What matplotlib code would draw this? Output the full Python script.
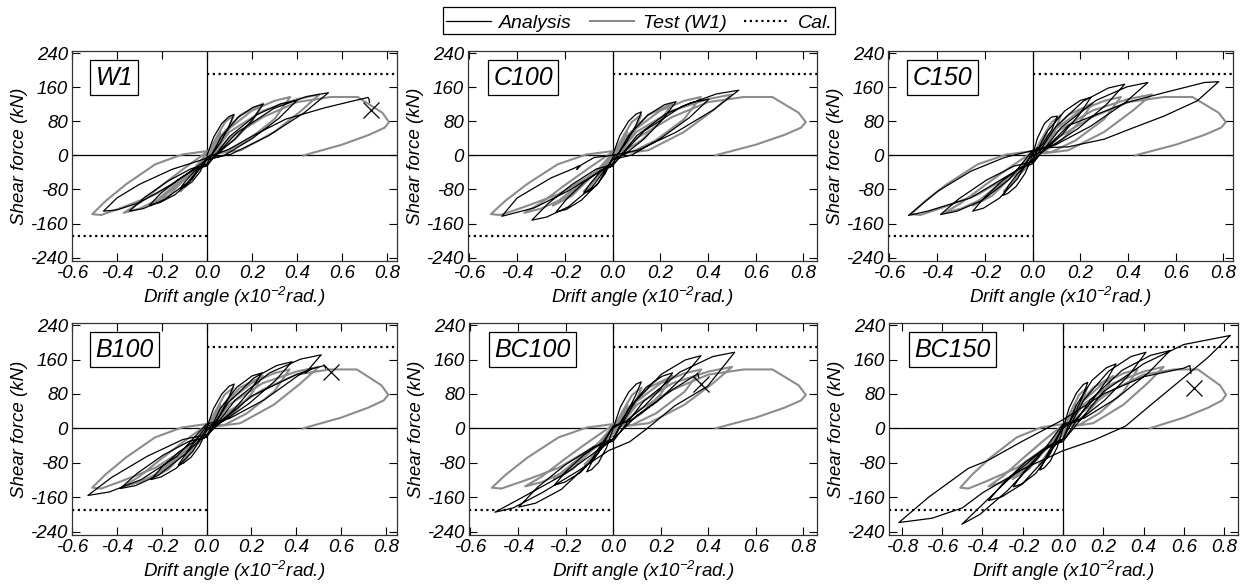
import matplotlib
matplotlib.use("Agg")
import matplotlib.pyplot as plt
import numpy as np
from matplotlib.patches import Rectangle
from matplotlib.ticker import FormatStrFormatter, MultipleLocator

plt.rcParams['font.family'] = ['Liberation Sans', 'DejaVu Sans']
plt.rcParams['font.style'] = 'italic'
plt.rcParams['font.size'] = 13.5
plt.rcParams['axes.unicode_minus'] = False
plt.rcParams['mathtext.fontset'] = 'custom'
plt.rcParams['mathtext.rm'] = 'Liberation Sans:italic'
plt.rcParams['mathtext.it'] = 'Liberation Sans:italic'

# calculated strength (kN)
cal_force = 190

# test result of specimen W1 (drift x1e-2 rad, shear kN), same in every panel
test_w1 = [(0, 0), (0.03, 30), (0.06, 55), (0.04, 30), (0.0, 5), (-0.04, -25), (-0.06, -45), (-0.03, -30), (0, -10),
           (0.04, 40), (0.08, 78), (0.12, 95), (0.09, 55), (0.04, 18), (0, 2), (-0.05, -40), (-0.09, -70), (-0.12, -85),
           (-0.08, -60), (-0.03, -30), (0, -15),
           (0.06, 45), (0.15, 95), (0.25, 122), (0.2, 80), (0.12, 35), (0.05, 10), (0, 5), (-0.08, -45), (-0.17, -95),
           (-0.25, -118), (-0.2, -95), (-0.1, -50), (0, -15),
           (0.08, 55), (0.2, 105), (0.3, 128), (0.37, 137), (0.3, 85), (0.18, 35), (0.08, 8), (0, 8), (-0.1, -30),
           (-0.2, -70), (-0.3, -112), (-0.37, -135), (-0.3, -125), (-0.2, -100), (-0.1, -55), (0, -15),
           (0.1, 55), (0.25, 105), (0.4, 132), (0.5, 143), (0.42, 105), (0.3, 55), (0.15, 12), (0.05, 5), (0, 10),
           (-0.11, 2), (-0.23, -21), (-0.36, -68), (-0.45, -107), (-0.51, -138), (-0.47, -140), (-0.38, -123),
           (-0.23, -92), (-0.11, -53), (0, -13),
           (0.1, 40), (0.25, 90), (0.4, 125), (0.55, 137), (0.67, 137), (0.78, 100), (0.81, 78), (0.79, 65),
           (0.72, 48), (0.6, 25), (0.43, 0)]

ana_w1 = [(0, 0), (0.03, 43), (0.066, 75), (0.098, 91), (0.12, 96), (0.096, 66), (0.06, 30), (0.024, 3), (0, -5),
          (-0.03, -38), (-0.066, -62), (-0.098, -74), (-0.12, -78), (-0.096, -61), (-0.06, -40), (-0.024, -25),
          (0, -20),
          (0.0625, 43), (0.1375, 89), (0.205, 113), (0.25, 120), (0.2, 82), (0.125, 39), (0.05, 5), (0, -5),
          (-0.064, -55), (-0.141, -92), (-0.21, -111), (-0.256, -117), (-0.205, -89), (-0.128, -57),
          (-0.051, -32), (0, -25),
          (0.1, 44), (0.22, 95), (0.328, 121), (0.4, 129), (0.32, 87), (0.2, 39), (0.08, 1), (0, -10),
          (-0.086, -64), (-0.19, -104), (-0.283, -125), (-0.345, -131), (-0.276, -98), (-0.172, -60),
          (-0.069, -31), (0, -22),
          (0.135, 54), (0.297, 110), (0.443, 138), (0.54, 147), (0.432, 100), (0.27, 45), (0.108, 3), (0, -10),
          (-0.156, -68), (-0.3, -111), (-0.4, -128), (-0.46, -131), (-0.4, -100), (-0.3, -68), (-0.156, -33),
          (-0.02, -10),
          (0.1, 15), (0.2, 45), (0.35, 85), (0.526, 112), (0.66, 129), (0.716, 136), (0.72, 133), (0.723, 124)]

ana_c100 = [(0, 0), (0.03, 46), (0.067, 80), (0.099, 97), (0.121, 102), (0.097, 70), (0.06, 32), (0.024, 4),
            (0, -5), (-0.03, -42), (-0.066, -70), (-0.098, -84), (-0.12, -88), (-0.096, -68), (-0.06, -44),
            (-0.024, -25), (0, -20),
            (0.067, 46), (0.146, 94), (0.218, 119), (0.266, 126), (0.213, 86), (0.133, 39), (0.053, 3), (0, -8),
            (-0.059, -64), (-0.13, -105), (-0.194, -127), (-0.237, -133), (-0.19, -101), (-0.119, -63),
            (-0.047, -34), (0, -25),
            (0.101, 46), (0.222, 97), (0.331, 124), (0.404, 132), (0.323, 89), (0.202, 40), (0.081, 1), (0, -10),
            (-0.085, -74), (-0.186, -121), (-0.277, -145), (-0.338, -152), (-0.27, -113), (-0.169, -68),
            (-0.068, -32), (0, -22),
            (0.132, 57), (0.291, 115), (0.434, 144), (0.529, 153), (0.423, 107), (0.265, 54), (0.106, 12), (0, 0),
            (-0.077, -5), (-0.13, -22), (-0.15, -33), (-0.14, -24), (-0.16, -30), (-0.258, -53), (-0.4, -100),
            (-0.464, -143), (-0.327, -123), (-0.188, -84), (-0.05, -37), (0, -25)]

ana_c150 = [(0, 0), (0.02, 40), (0.05, 75), (0.08, 90), (0.104, 92), (0.08, 60), (0.04, 25), (0, 5), (-0.03, -20),
            (-0.05, -38), (-0.03, -25), (0, -10),
            (0.061, 56), (0.134, 104), (0.2, 129), (0.244, 136), (0.195, 95), (0.122, 48), (0.049, 11), (0, 0),
            (-0.031, -42), (-0.069, -73), (-0.103, -89), (-0.125, -94), (-0.1, -70), (-0.063, -43), (-0.025, -21),
            (0, -15),
            (0.097, 67), (0.212, 127), (0.317, 158), (0.386, 167), (0.309, 119), (0.193, 64), (0.077, 21), (0, 8),
            (-0.063, -55), (-0.138, -100), (-0.206, -124), (-0.251, -131), (-0.2, -98), (-0.126, -59),
            (-0.05, -29), (0, -20),
            (0.121, 66), (0.266, 129), (0.396, 161), (0.483, 171), (0.386, 123), (0.242, 68), (0.097, 25), (0, 12),
            (-0.097, -56), (-0.212, -106), (-0.317, -131), (-0.386, -139), (-0.309, -102), (-0.193, -58),
            (-0.077, -25), (0, -15),
            (0.15, 70), (0.4, 125), (0.55, 147), (0.72, 171), (0.78, 173), (0.69, 128), (0.55, 92), (0.4, 60),
            (0.3, 38), (0.15, 20), (0.05, 18), (-0.118, -5), (-0.258, -37), (-0.397, -84), (-0.52, -141),
            (-0.44, -131), (-0.26, -100), (-0.12, -53), (0, -13), (0.02, 18)]

ana_b100 = [(0, 0), (0.031, 46), (0.068, 80), (0.101, 98), (0.123, 103), (0.098, 71), (0.062, 33), (0.025, 4),
            (0, -5), (-0.032, -41), (-0.069, -67), (-0.103, -81), (-0.126, -85), (-0.101, -66), (-0.063, -43),
            (-0.025, -25), (0, -20),
            (0.062, 47), (0.136, 96), (0.203, 122), (0.247, 129), (0.198, 90), (0.124, 45), (0.049, 10), (0, 0),
            (-0.062, -54), (-0.136, -93), (-0.203, -113), (-0.247, -119), (-0.198, -89), (-0.124, -55),
            (-0.049, -28), (0, -20),
            (0.095, 59), (0.21, 117), (0.312, 146), (0.381, 155), (0.305, 110), (0.19, 58), (0.076, 17), (0, 5),
            (-0.096, -60), (-0.212, -108), (-0.316, -133), (-0.385, -140), (-0.308, -104), (-0.193, -62),
            (-0.077, -30), (0, -20),
            (0.128, 66), (0.281, 129), (0.419, 161), (0.511, 171), (0.44, 128), (0.47, 140), (0.409, 123),
            (0.256, 66), (0.102, 23), (0, 10),
            (-0.132, -65), (-0.291, -119), (-0.434, -148), (-0.529, -156), (-0.423, -114), (-0.265, -65),
            (-0.106, -26), (0, -15),
            (0.2, 75), (0.4, 125), (0.48, 140), (0.526, 146), (0.53, 140)]

ana_bc100 = [(0, 0), (0.03, 49), (0.065, 84), (0.097, 103), (0.118, 108), (0.094, 76), (0.059, 38), (0.024, 9),
             (0, 0), (-0.028, -45), (-0.061, -79), (-0.091, -96), (-0.111, -101), (-0.089, -78), (-0.056, -52),
             (-0.022, -31), (0, -25),
             (0.063, 44), (0.138, 95), (0.205, 121), (0.25, 129), (0.2, 92), (0.125, 48), (0.05, 15), (0, 5),
             (-0.062, -57), (-0.136, -102), (-0.203, -125), (-0.247, -132), (-0.198, -100), (-0.124, -62),
             (-0.049, -34), (0, -25),
             (0.092, 62), (0.203, 126), (0.303, 159), (0.369, 169), (0.295, 120), (0.185, 62), (0.074, 18), (0, 5),
             (-0.099, -80), (-0.218, -142), (-0.326, -174), (-0.397, -183), (-0.318, -137), (-0.199, -84),
             (-0.079, -42), (0, -30),
             (0.128, 63), (0.281, 131), (0.419, 167), (0.511, 177), (0.397, 98), (0.258, 52), (0.146, 1),
             (0.07, -31), (-0.02, -52),
             (-0.15, -100), (-0.3, -150), (-0.42, -185), (-0.497, -195), (-0.38, -160), (-0.2, -105), (-0.05, -45),
             (0, -25), (0.1, 30), (0.25, 90), (0.35, 125), (0.355, 128), (0.36, 118)]

ana_bc150 = [(0, 0), (0.031, 48), (0.068, 83), (0.101, 102), (0.123, 107), (0.098, 75), (0.062, 37), (0.025, 9),
             (0, 0), (-0.029, -44), (-0.063, -76), (-0.094, -92), (-0.115, -97), (-0.092, -75), (-0.058, -50),
             (-0.023, -31), (0, -25),
             (0.066, 54), (0.145, 112), (0.216, 141), (0.263, 150), (0.21, 107), (0.132, 56), (0.053, 16), (0, 5),
             (-0.062, -58), (-0.136, -105), (-0.203, -129), (-0.247, -136), (-0.198, -103), (-0.124, -64),
             (-0.049, -34), (0, -25),
             (0.103, 66), (0.227, 133), (0.338, 167), (0.412, 177), (0.33, 125), (0.206, 65), (0.082, 19), (0, 5),
             (-0.093, -73), (-0.204, -130), (-0.303, -159), (-0.37, -168), (-0.296, -127), (-0.185, -78),
             (-0.074, -41), (0, -30),
             (0.133, 65), (0.293, 135), (0.436, 170), (0.532, 181), (0.426, 130), (0.266, 70), (0.106, 24), (0, 10),
             (-0.126, -70), (-0.276, -145), (-0.412, -200), (-0.502, -223), (-0.402, -178), (-0.251, -110),
             (-0.1, -50), (0, -30),
             (0.2, 85), (0.4, 150), (0.6, 195), (0.831, 216), (0.72, 165), (0.6, 118), (0.45, 60), (0.31, 5),
             (0.15, -28), (0, -52), (-0.2, -95), (-0.4, -150), (-0.5, -185), (-0.65, -209), (-0.815, -219),
             (-0.667, -160), (-0.47, -93), (-0.37, -74), (-0.206, -31), (0, 20),
             (0.2, 80), (0.4, 120), (0.6, 140), (0.63, 146), (0.635, 128)]

names = ['W1', 'C100', 'C150', 'B100', 'BC100', 'BC150']
analysis = [ana_w1, ana_c100, ana_c150, ana_b100, ana_bc100, ana_bc150]
# failure points (x markers); None where no marker
failure = [(0.73, 107), None, None, (0.553, 132), (0.37, 103), (0.65, 95)]

# axes boxes in pixels: left, top, width, height
W, H = 1245, 588
boxes = [(72, 51, 325, 210), (468, 51, 349, 210), (888, 51, 345, 210),
         (72, 323, 325, 212), (469, 323, 348, 212), (889, 323, 349, 212)]
xlims = [(-0.6, 0.845), (-0.606, 0.857), (-0.606, 0.84),
         (-0.6, 0.849), (-0.606, 0.857), (-0.864, 0.869)]

fig = plt.figure(figsize=(W / 100, H / 100), dpi=100)

for i, name in enumerate(names):
    l, t, w, h = boxes[i]
    ax = fig.add_axes([l / W, 1 - (t + h) / H, w / W, h / H])
    ax.set_xlim(*xlims[i])
    ax.set_ylim(-248, 245)

    ax.axhline(0, color='k', lw=0.9, zorder=1)
    ax.axvline(0, color='k', lw=0.9, zorder=1)

    tx, ty = np.array(test_w1).T
    ax.plot(tx, ty, color='#8c8c8c', lw=1.5, zorder=2)
    axx, axy = np.array(analysis[i]).T
    ax.plot(axx, axy, color='k', lw=0.9, zorder=3)

    xl = xlims[i]
    ax.plot([0, xl[1]], [cal_force, cal_force], color='k', lw=1.6, ls=(0, (1, 1.6)), zorder=2)
    ax.plot([xl[0], 0], [-cal_force, -cal_force], color='k', lw=1.6, ls=(0, (1, 1.6)), zorder=2)

    if failure[i] is not None:
        ax.plot(*failure[i], marker='x', ms=11, mew=0.9, color='k', zorder=4)

    ax.text(0.072, 0.93, name, transform=ax.transAxes, fontsize=18, va='top', ha='left',
            bbox=dict(boxstyle='square,pad=0.22', fc='white', ec='k', lw=0.9), zorder=5)

    ax.xaxis.set_major_locator(MultipleLocator(0.2))
    ax.xaxis.set_major_formatter(FormatStrFormatter('%.1f'))
    ax.set_yticks([-240, -160, -80, 0, 80, 160, 240])
    ax.tick_params(direction='in', length=6, width=0.8, top=True, right=True, labelsize=13.5, pad=3)
    for sp in ax.spines.values():
        sp.set_linewidth(0.9)
        sp.set_color('#333333')
    ax.set_xlabel(r'Drift angle (x10$^{-2}$rad.)', fontsize=13.5, labelpad=2)
    ax.set_ylabel('Shear force (kN)', fontsize=13.5, labelpad=2)

handles = [plt.Line2D([], [], color='k', lw=0.9),
           plt.Line2D([], [], color='#8c8c8c', lw=1.5),
           plt.Line2D([], [], color='k', lw=1.6, ls=(0, (1, 1.6)))]
fig.legend(handles, ['Analysis', 'Test (W1)', 'Cal.'], loc='upper center',
           bbox_to_anchor=(0.5135, 0.985), ncol=3, fontsize=14, frameon=False,
           handlelength=2.3, columnspacing=0.9, handletextpad=0.45, borderpad=0.3,
           borderaxespad=0)
# legend frame drawn by hand to hug the entries
fig.patches.append(Rectangle((443 / W, 1 - 34 / H), 392 / W, 27 / H, transform=fig.transFigure,
                             fill=False, ec='k', lw=0.9))

fig.savefig('out.png', dpi=100)
